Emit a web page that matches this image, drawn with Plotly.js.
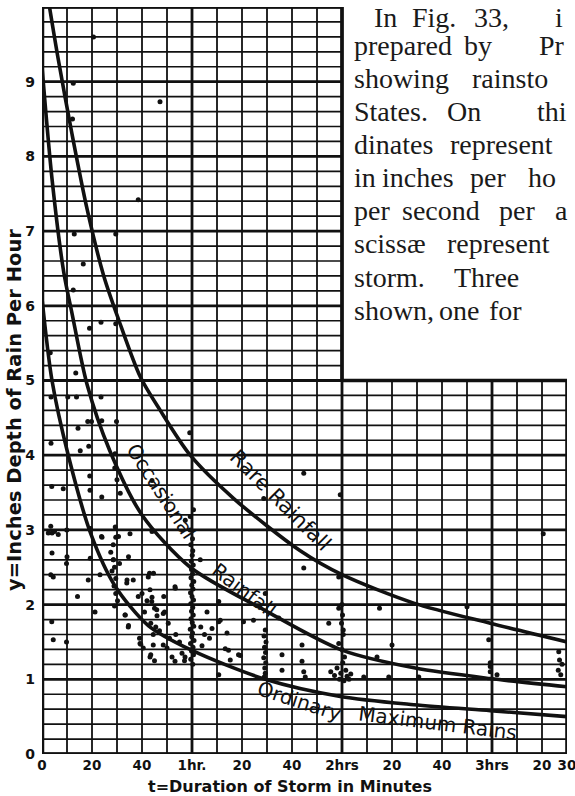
<!DOCTYPE html>
<html>
<head>
<meta charset="utf-8">
<script src="https://cdn.plot.ly/plotly-3.0.1.min.js"></script>
<style>html,body{margin:0;padding:0;background:#fff;}#chart{width:575px;height:796px;}</style>
</head>
<body>
<div id="chart"></div>
<script>
// ---- data (t in minutes, v in inches per hour) ----
var xTickVals = [0, 20, 40, 60, 80, 100, 120, 140, 160, 180, 200, 210];
var xTickText = ['0', '20', '40', '1hr.', '20', '40', '2hrs', '20', '40', '3hrs', '20', '30'];
var yTickVals = [0, 1, 2, 3, 4, 5, 6, 7, 8, 9];
var yTickText = ['0', '1', '2', '3', '4', '5', '6', '7', '8', '9'];

var rareT = [3, 6.5, 12, 18, 24.7, 30.6, 39.3, 47.3, 59.3, 76.7, 103.3, 120, 148.7, 179.3, 210];
var rareV = [10, 9.3, 8.3, 7.3, 6.4, 5.82, 5.05, 4.6, 4.0, 3.42, 2.72, 2.4, 2.02, 1.75, 1.5];

var occT = [0, 4, 8.7, 12, 18, 27, 40, 59.3, 89.3, 120, 149.3, 179.3, 210];
var occV = [9.2, 7.7, 6.45, 5.9, 4.95, 4.07, 3.2, 2.5, 1.92, 1.39, 1.15, 1.01, 0.9];

var ordT = [0, 4, 10.5, 19.5, 29.2, 42.5, 59.8, 89.3, 119.3, 148.7, 179.3, 210];
var ordV = [6.1, 5.0, 4.0, 2.95, 2.25, 1.72, 1.39, 1.0, 0.77, 0.66, 0.58, 0.5];

var curveNames = ['Rare Rainfall', 'Occasional', 'Rainfall', 'Ordinary', 'Maximum Rains'];

var pointT = [
 12.5, 12.2, 47.2, 38.5, 12.9, 29.5, 16.5, 12.5, 20.6,
 19, 23.6, 29.5, 3.3, 13.5, 3.6, 10.3, 13.8, 23.6,
 18.3, 19.8, 23.9, 29.8, 14.4, 3.6, 18.7, 15.3, 29.2, 59.1,
 44, 3.9, 8.5, 19.1, 29.1, 30, 23.9, 31.3, 19.2, 60.6, 59.3,
 88.7, 104.7, 119.3,
 3.5, 4, 9.9, 19.3, 24, 29.3, 30.6, 35.2, 44, 57.3, 59.3, 2.5, 5, 6.5,
 4, 10, 19.3, 28.6, 34.6, 44.6, 63.3, 9.8, 4.5, 3.5,
 18.5, 23.2, 23.8, 14.2, 21.2, 3.9, 4.5, 9.8,
 33.2, 34.5, 39.2, 43.2, 44.5, 48.5, 53.2, 57.2,
 33.9, 36.5, 42.5, 43, 43.2, 38.5, 43.9, 45.9, 48.5, 53.2,
 28.5, 29, 28, 29.5, 28.8, 29.5, 30.2, 29, 31, 27.5, 28.5, 29.5,
 34, 33.3, 34.6,
 40, 42, 44, 45, 46, 43.5, 45.5, 41, 47, 44.5, 39, 39.5, 40.5, 43.5, 45,
 49, 50.5, 51, 50, 52, 53.5, 55, 56, 57, 48.7, 53.3,
 60.3, 59.5, 60.6, 59.8, 60.4, 59.4, 60.8, 59.9, 60.2, 59.3, 60.7, 60.1, 59.6, 60.5, 59.8, 60.3,
 59.5, 60.6, 60, 59.4, 60.4, 59.9, 60.7, 59.6, 60.2, 59.8, 60.5, 59.7, 60.1, 60.3, 59.5, 60.2,
 66, 63.5, 65, 67, 64, 70.7, 74, 74.6, 79.3, 84.6, 70.7, 75.3, 70.7, 71.3, 68, 73.3, 80.6, 78.6, 89.3,
 89.3, 88.8, 89.6, 89, 89.4, 88.7, 89.5, 89.1, 89.3, 88.9,
 94.7, 96, 96, 104, 104.7, 104, 104.7, 105.3, 114.7, 118.7, 118.7, 118.7,
 115.5, 117, 118, 119, 119.5, 120.3, 120.8, 121.5, 122, 122.8, 123.5, 121, 120, 120.5, 119.8, 120.2, 120, 120.5,
 135, 170, 140, 134, 128.7, 138.7, 150.7, 178.7, 179.3, 179.3, 182, 179.3,
 200.5, 206.7, 207, 206.5, 207.5, 208
];
var pointV = [
 8.98, 8.5, 8.73, 7.42, 6.96, 6.96, 6.56, 6.21, 9.6,
 5.7, 5.78, 5.76, 5.37, 5.1, 4.78, 4.78, 4.78, 4.78,
 4.45, 4.45, 4.46, 4.45, 4.36, 4.16, 4.12, 4.06, 4.02, 4.3,
 3.66, 3.58, 3.55, 3.72, 3.83, 3.67, 3.44, 3.49, 3.53, 3.27, 3.18,
 3.42, 3.76, 3.47,
 3.05, 2.96, 3.0, 3.02, 2.9, 3.04, 2.91, 2.95, 2.98, 3.13, 3.0, 2.96, 2.98, 2.94,
 2.69, 2.64, 2.62, 2.6, 2.64, 2.42, 2.6, 2.55, 2.37, 2.4,
 2.33, 2.4, 2.91, 2.11, 1.9, 1.77, 1.53, 1.5,
 1.86, 1.7, 1.48, 1.3, 1.46, 1.46, 1.24, 1.3,
 2.29, 2.33, 2.37, 2.42, 2.2, 2.11, 2.04, 1.93, 1.88, 2.24,
 2.6, 2.5, 2.45, 2.35, 2.25, 2.15, 2.05, 1.98, 2.55, 2.7, 2.8, 2.9,
 2.33, 1.86, 1.72,
 2.15, 2.05, 2.1, 1.95, 1.85, 1.75, 1.7, 1.9, 1.65, 1.6, 1.55, 1.47, 1.42, 1.33, 1.25,
 1.9, 1.75, 1.55, 1.42, 1.3, 1.6, 1.5, 1.35, 1.25, 2.11, 2.22,
 1.2, 1.27, 1.33, 1.38, 1.43, 1.48, 1.52, 1.57, 1.62, 1.67, 1.71, 1.76, 1.81, 1.86, 1.91, 1.96,
 2.01, 2.06, 2.11, 2.16, 2.21, 2.26, 2.31, 2.36, 2.41, 2.47, 2.53, 2.58, 2.66, 2.72, 2.8, 2.88,
 1.9, 1.7, 1.6, 1.55, 1.45, 1.77, 1.62, 1.39, 1.32, 1.79, 1.06, 1.26, 2.04, 1.79, 1.68, 1.41, 1.77, 1.33, 2.15,
 1.66, 1.58, 1.5, 1.43, 1.36, 1.29, 1.22, 1.15, 1.08, 1.03,
 1.82, 1.33, 1.12, 1.46, 2.49, 1.24, 1.1, 1.03, 1.75, 1.95, 2.37, 1.48,
 1.1, 1.05, 1.15, 1.0, 1.08, 1.22, 0.98, 1.12, 1.04, 1.0, 1.07, 1.3, 1.4, 1.6, 1.75, 1.86, 2.0, 1.66,
 1.95, 1.97, 1.46, 1.3, 1.03, 1.03, 1.03, 1.53, 1.17, 1.1, 1.06, 1.22,
 2.95, 1.37, 1.26, 1.12, 1.06, 1.2
];

// the cropped page text beside the figure (one list per printed line)
var bookWords = [
  ['In', 'Fig.', '33,', 'i'],
  ['prepared', 'by', 'Pr'],
  ['showing', 'rainsto'],
  ['States.', 'On', 'thi'],
  ['dinates', 'represent'],
  ['in', 'inches', 'per', 'ho'],
  ['per', 'second', 'per', 'a'],
  ['scissæ', 'represent'],
  ['storm.', 'Three'],
  ['shown,', 'one', 'for']
];

(function () {
  var W = 575, H = 796;
  var M = {l: 42, r: 8, t: 7, b: 42};
  var PW = W - M.l - M.r, PH = H - M.t - M.b;
  function px(x) { return (x - M.l) / PW; }
  function py(y) { return (H - M.b - y) / PH; }
  var INK = '#111';
  var chartFont = 'DejaVu Sans, sans-serif';
  var bookFont = 'Liberation Serif, DejaVu Serif, serif';

  var shapes = [];
  for (var i = 0; i <= 21; i++) {
    var t = i * 10;
    var yTop = (t <= 120) ? 10 : 5;
    var major = (t % 60 === 0);
    shapes.push({type: 'line', xref: 'x', yref: 'y', x0: t, x1: t, y0: 0, y1: yTop, layer: 'below',
      line: {color: INK, width: major ? 2.8 : 1.8}});
  }
  for (var j = 0; j <= 50; j++) {
    var v = j / 5;
    var xRight = (j <= 25) ? 210 : 120;
    var maj = (j % 5 === 0);
    shapes.push({type: 'line', xref: 'x', yref: 'y', x0: 0, x1: xRight, y0: v, y1: v, layer: 'below',
      line: {color: INK, width: maj ? 2.8 : 1.7}});
  }
  var border = [[0,0,0,10],[0,10,120,10],[120,10,120,5],[120,5,210,5],[210,5,210,0],[210,0,0,0]];
  border.forEach(function (b) {
    shapes.push({type: 'line', xref: 'x', yref: 'y', x0: b[0], y0: b[1], x1: b[2], y1: b[3], layer: 'below',
      line: {color: INK, width: (b[0] === 0 && b[2] === 0) ? 4.5 : 3.6}});
  });

  function curve(xs, ys) {
    return {x: xs, y: ys, type: 'scatter', mode: 'lines', hoverinfo: 'skip',
      line: {color: INK, width: 3.6, shape: 'spline', smoothing: 0.8}};
  }
  var traces = [
    {x: pointT, y: pointV, type: 'scatter', mode: 'markers', marker: {color: INK, size: 5}, hoverinfo: 'skip'},
    curve(rareT, rareV), curve(occT, occV), curve(ordT, ordV)
  ];

  function label(text, x, y, ang, size, bold) {
    var f = {family: chartFont, size: size, color: INK};
    if (bold) f.weight = 'bold';
    return {text: text, xref: 'paper', yref: 'paper', x: px(x), y: py(y), xanchor: 'center', yanchor: 'middle',
      showarrow: false, textangle: ang, font: f};
  }

  var annotations = [
    label(curveNames[0], 280, 500, 45, 21),
    label(curveNames[1], 161, 491, 57, 20),
    label(curveNames[2], 244, 590, 37, 20),
    label(curveNames[3], 299, 701, 18, 20),
    label(curveNames[4], 437, 723, 7, 20),
    label('y=Inches Depth of Rain Per Hour', 14, 410, -90, 19.5, true),
    label('t=Duration of Storm in Minutes', 290, 786, 0, 16, true)
  ];

  // page text, words placed as justified in the scan
  var lineY = [17, 46, 79, 112, 145, 178, 211, 244, 277, 310];
  var wordX = [
    [372, 410, 472, 553],
    [352, 462, 537],
    [352, 470],
    [352, 445, 535],
    [352, 448],
    [352, 380, 468, 526],
    [352, 400, 497, 553],
    [352, 445],
    [352, 452],
    [352, 437, 487]
  ];
  bookWords.forEach(function (words, li) {
    words.forEach(function (w, wi) {
      annotations.push({text: w, xref: 'paper', yref: 'paper', x: px(wordX[li][wi]), y: py(lineY[li]),
        xanchor: 'left', yanchor: 'middle', showarrow: false,
        font: {family: bookFont, size: 28, color: '#1a1a1a'}});
    });
  });

  var layout = {
    width: W, height: H,
    margin: {l: M.l, r: M.r, t: M.t, b: M.b},
    paper_bgcolor: '#fff', plot_bgcolor: 'rgba(0,0,0,0)',
    showlegend: false,
    xaxis: {range: [0, 210], showgrid: false, zeroline: false, showline: false,
      tickmode: 'array', tickvals: xTickVals, ticktext: xTickText, ticks: '', ticklabelstandoff: 1,
      ticklabeloverflow: 'allow',
      tickfont: {family: chartFont, size: 13.5, color: INK, weight: 'bold'}, fixedrange: true},
    yaxis: {range: [0, 10], showgrid: false, zeroline: false, showline: false,
      tickmode: 'array', tickvals: yTickVals, ticktext: yTickText, ticks: '', ticklabelstandoff: 6,
      tickfont: {family: chartFont, size: 14, color: INK, weight: 'bold'}, fixedrange: true},
    shapes: shapes,
    annotations: annotations
  };

  Plotly.newPlot('chart', traces, layout, {displayModeBar: false, staticPlot: true});
})();
</script>
</body>
</html>
